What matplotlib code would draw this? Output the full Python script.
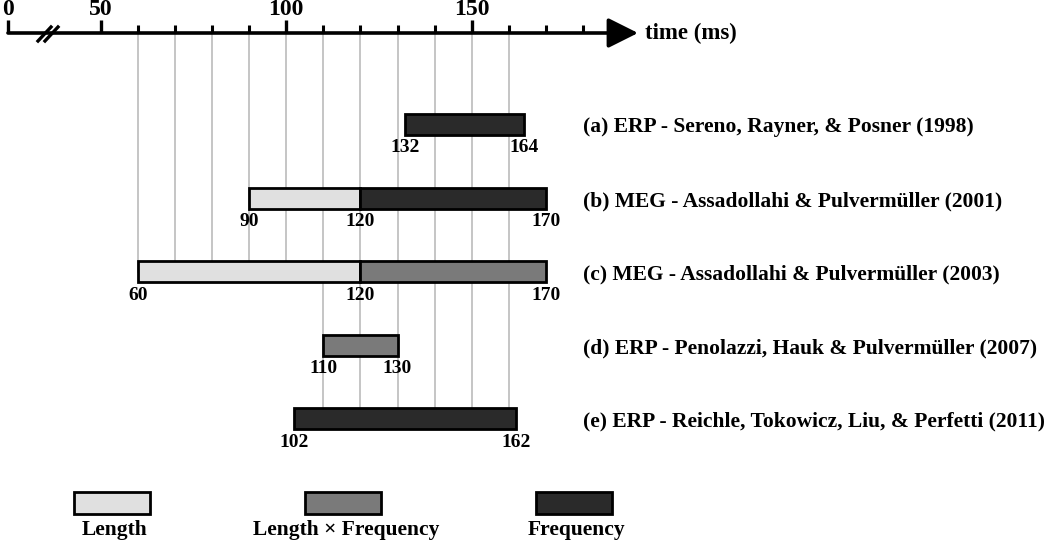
import matplotlib
matplotlib.use('Agg')
import matplotlib.pyplot as plt
from matplotlib.patches import Rectangle

# studies (one row each)
study_labels = [
    "(a) ERP - Sereno, Rayner, & Posner (1998)",
    "(b) MEG - Assadollahi & Pulvermüller (2001)",
    "(c) MEG - Assadollahi & Pulvermüller (2003)",
    "(d) ERP - Penolazzi, Hauk & Pulvermüller (2007)",
    "(e) ERP - Reichle, Tokowicz, Liu, & Perfetti (2011)",
]

# effect windows (ms)
seg_row = [0, 1, 1, 2, 2, 3, 4]
seg_start = [132, 90, 120, 60, 120, 110, 102]
seg_end = [164, 120, 170, 120, 170, 130, 162]
seg_effect = ["Frequency", "Length", "Frequency", "Length",
              "Length × Frequency", "Length × Frequency", "Frequency"]

effects = ["Length", "Length × Frequency", "Frequency"]
effect_colors = {"Length": "#e0e0e0", "Length × Frequency": "#7a7a7a",
                 "Frequency": "#2a2a2a"}

# time axis
axis_labels = ["0", "50", "100", "150"]
axis_major = [25, 50, 100, 150]   # "0" sits left of the axis break
axis_minor = list(range(60, 190, 10))
grid_ticks = list(range(60, 170, 10))

FONT = "Liberation Serif"
W, H = 1050, 543
PX_PER_MS = 3.71
X0_PX = 8          # pixel of the "0" end of the axis
ROW0_PX = 124.5    # pixel centre of first row
ROW_PX = 73.6      # pixel spacing between rows


def py(px):
    return (px - ROW0_PX) / ROW_PX


def pxx(px):
    return 25 + (px - X0_PX) / PX_PER_MS


fig = plt.figure(figsize=(W / 100, H / 100), dpi=100)
ax = fig.add_axes([0, 0, 1, 1])
ax.set_xlim(pxx(0), pxx(W))
ax.set_ylim(py(H), py(0))
ax.axis('off')

bar_h = 21 / ROW_PX
axis_y = py(33)

# vertical guide lines, down to the lowest bar covering them
for t in grid_ticks:
    rows = [r for r, s, e in zip(seg_row, seg_start, seg_end) if s <= t <= e]
    ax.plot([t, t], [axis_y, max(rows)], color="#b5b5b5", lw=1.1, zorder=1)

# bars
for r, s, e, eff in zip(seg_row, seg_start, seg_end, seg_effect):
    ax.barh(r, e - s, left=s, height=bar_h, color=effect_colors[eff],
            edgecolor="black", linewidth=2.0, zorder=3)

# boundary value labels
for r in range(len(study_labels)):
    bounds = sorted(set([s for rr, s in zip(seg_row, seg_start) if rr == r] +
                        [e for rr, e in zip(seg_row, seg_end) if rr == r]))
    for b in bounds:
        ax.text(b, r + bar_h / 2 + 13 / ROW_PX, str(b), ha="center",
                va="center", fontsize=14, fontweight="bold", family=FONT,
                zorder=4)

# study labels
for r, lab in enumerate(study_labels):
    ax.text(pxx(583), r + 3 / ROW_PX, lab, ha="left", va="center",
            fontsize=15.5, fontweight="bold", family=FONT)

# time axis with arrow
ax.annotate("", xy=(pxx(638), axis_y), xytext=(axis_major[0], axis_y),
            arrowprops=dict(arrowstyle="-|>,head_length=0.4,head_width=0.2",
                            lw=2.6, color="black", mutation_scale=46,
                            shrinkA=0, shrinkB=0), zorder=5)
for t, lab in zip(axis_major, axis_labels):
    ax.plot([t, t], [axis_y, py(20)], color="black", lw=2.4,
            solid_capstyle="butt", zorder=5)
    ax.text(t, py(10), lab, ha="center", va="center", fontsize=17,
            fontweight="bold", family=FONT)
for t in axis_minor:
    if t not in axis_major:
        ax.plot([t, t], [axis_y, py(25)], color="black", lw=2.2,
                solid_capstyle="butt", zorder=5)
# axis break "//"
for dx in (0, 7):
    ax.plot([pxx(38 + dx), pxx(51 + dx)], [py(41), py(27)], color="black",
            lw=2.4, zorder=6)
ax.text(pxx(645), axis_y, "time (ms)", ha="left", va="center",
        fontsize=16.5, fontweight="bold", family=FONT)

# legend
leg_centers = [112, 343, 574]
for cx, eff in zip(leg_centers, effects):
    ax.add_patch(Rectangle((pxx(cx - 38), py(492)), 76 / PX_PER_MS,
                           22 / ROW_PX, facecolor=effect_colors[eff],
                           edgecolor="black", lw=2.0))
    ax.text(pxx(cx + 3), py(530), eff, ha="center", va="center",
            fontsize=15.5, fontweight="bold", family=FONT)

fig.savefig("out.png", dpi=100)
